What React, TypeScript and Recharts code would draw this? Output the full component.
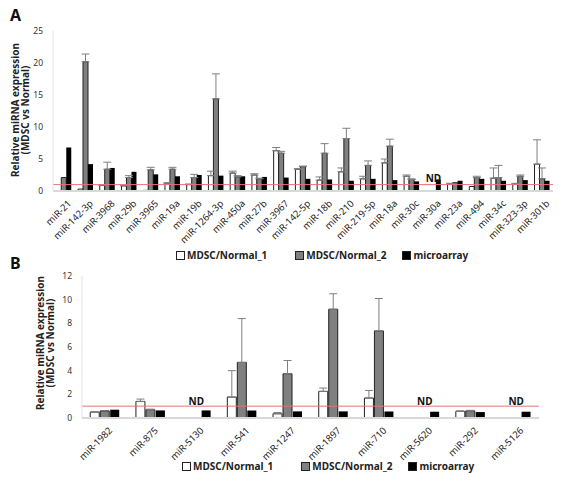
import React from 'react';
import { BarChart, Bar, XAxis, YAxis, ErrorBar, ReferenceLine, ReferenceDot } from 'recharts';

// ---------- Panel A data ----------
const catsA = ['miR-21', 'miR-142-3p', 'miR-3968', 'miR-29b', 'miR-3965', 'miR-19a', 'miR-19b', 'miR-1264-3p', 'miR-450a', 'miR-27b', 'miR-3967', 'miR-142-5p', 'miR-18b', 'miR-210', 'miR-219-5p', 'miR-18a', 'miR-30c', 'miR-30a', 'miR-23a', 'miR-494', 'miR-34c', 'miR-323-3p', 'miR-301b'];
const n1A = [0.05, 0.3, 0.9, 0.8, 0.1, 1.2, 1.0, 2.4, 2.8, 2.5, 6.3, 3.4, 1.7, 3.0, 1.9, 4.4, 2.3, null, 1.1, 0.7, 2.0, 1.1, 4.2];
const n1ErrA = [null, null, 0.1, 0.1, null, 0.1, 0.1, 0.7, 0.3, 0.2, 0.5, 0.1, 0.5, 0.6, 0.4, 0.6, 0.2, null, 0.1, null, 1.6, 0.1, 3.8];
const n2A = [2.1, 20.2, 3.4, 2.1, 3.3, 3.4, 2.1, 14.4, 2.2, 1.9, 5.9, 3.8, 5.9, 8.2, 4.0, 7.0, 1.8, null, 1.3, 2.1, 2.1, 2.3, 1.9];
const n2ErrA = [null, 1.2, 1.1, 0.3, 0.4, 0.3, 0.5, 3.9, 0.2, 0.1, 0.3, 0.1, 1.5, 1.6, 0.7, 1.1, 0.1, null, null, 0.2, 1.9, 0.2, 1.7];
const microA = [6.8, 4.2, 3.6, 3.0, 2.6, 2.3, 2.5, 2.4, 2.3, 2.2, 2.1, 1.9, 1.8, 1.6, 1.9, 1.7, 1.5, 1.8, 1.6, 1.9, 1.6, 1.7, 1.6];
const ticksA = [0, 5, 10, 15, 20, 25];
const ndA = ['miR-30a'];

// ---------- Panel B data ----------
const catsB = ['miR-1982', 'miR-875', 'miR-5130', 'miR-541', 'miR-1247', 'miR-1897', 'miR-710', 'miR-5620', 'miR-292', 'miR-5126'];
const n1B = [0.5, 1.4, null, 1.77, 0.36, 2.25, 1.69, null, 0.56, null];
const n1ErrB = [0.03, 0.2, null, 2.23, 0.1, 0.28, 0.64, null, 0.05, null];
const n2B = [0.6, 0.7, null, 4.7, 3.74, 9.19, 7.36, null, 0.6, null];
const n2ErrB = [null, 0.05, null, 3.7, 1.12, 1.31, 2.74, null, 0.05, null];
const microB = [0.7, 0.64, 0.64, 0.64, 0.56, 0.56, 0.55, 0.53, 0.5, 0.53];
const ticksB = [0, 2, 4, 6, 8, 10, 12];
const ndB = ['miR-5130', 'miR-5620', 'miR-5126'];

const seriesNames = ['MDSC/Normal_1', 'MDSC/Normal_2', 'microarray'];

const build = (cats: string[], a: any[], ae: any[], b: any[], be: any[], m: any[]) =>
  cats.map((c, i) => ({
    name: c,
    n1: a[i],
    n1e: ae[i] == null ? undefined : [0, ae[i]],
    n2: b[i],
    n2e: be[i] == null ? undefined : [0, be[i]],
    micro: m[i],
  }));

const dataA = build(catsA, n1A, n1ErrA, n2A, n2ErrA, microA);
const dataB = build(catsB, n1B, n1ErrB, n2B, n2ErrB, microB);

const FONT = '"Noto Sans", "Open Sans", sans-serif';

const AngledTick = (props: any) => {
  const { x, y, payload } = props;
  return (
    <g transform={`translate(${x + 3},${y})`}>
      <text
        x={0}
        y={0}
        dy="0.75em"
        textAnchor="end"
        transform="rotate(-45)"
        fontSize={9.5}
        fontFamily={FONT}
        fill="#222"
      >
        {payload.value}
      </text>
    </g>
  );
};

const NDLabel = (props: any) => {
  const { viewBox } = props;
  const cx = viewBox.x + viewBox.width / 2;
  const cy = viewBox.y + viewBox.height / 2;
  return (
    <text x={cx} y={cy} textAnchor="middle" dominantBaseline="central" fontSize={10} fontWeight="bold" fontFamily={FONT} fill="#111">
      ND
    </text>
  );
};

const Swatch = ({ fill }: { fill: string }) => (
  <span style={{ display: 'inline-block', width: 7, height: 7, background: fill, border: '1px solid #222', marginRight: 2, verticalAlign: 'middle' }} />
);

const LegendRow = ({ top, left }: { top: number; left: number }) => {
  const fills = ['#ffffff', '#808080', '#000000'];
  const gaps = [0, 28, 16];
  return (
    <div style={{ position: 'absolute', top, left, display: 'flex', alignItems: 'center', fontFamily: FONT, fontSize: 10, fontWeight: 'bold', color: '#222', whiteSpace: 'nowrap' }}>
      {seriesNames.map((n, i) => (
        <span key={n} style={{ marginLeft: gaps[i], display: 'inline-flex', alignItems: 'center' }}>
          <Swatch fill={fills[i]} />
          {n}
        </span>
      ))}
    </div>
  );
};

const YLabel = ({ cx, cy }: { cx: number; cy: number }) => (
  <text transform={`translate(${cx},${cy}) rotate(-90)`} textAnchor="middle" fontFamily={FONT} fontSize={10} fontWeight="bold" fill="#222">
    <tspan x={0} dy={0}>Relative miRNA expression</tspan>
    <tspan x={0} dy={10}>(MDSC vs Normal)</tspan>
  </text>
);

const tickStyle = { fontSize: 8.5, fontFamily: FONT, fill: '#333' };

export default function App() {
  return (
    <div style={{ position: 'absolute', left: 0, top: 0, width: 563, height: 483, background: '#fff', overflow: 'hidden' }}>
      {/* Panel A */}
      <div style={{ position: 'absolute', left: 0, top: 0 }}>
        <BarChart width={563} height={250} data={dataA} margin={{ top: 31, right: 10, left: 0, bottom: 4 }} barCategoryGap="15%" barGap={0}>
          <XAxis dataKey="name" interval={0} height={55} tick={<AngledTick />} tickLine={false} axisLine={{ stroke: '#d9d9d9', strokeWidth: 2 }} />
          <YAxis width={53} domain={[0, 25]} ticks={ticksA} tickLine={false} axisLine={{ stroke: '#e3e3e3' }} tick={tickStyle} tickMargin={4} />
          <Bar dataKey="n1" fill="#ffffff" stroke="#222" strokeWidth={1} isAnimationActive={false}>
            <ErrorBar dataKey="n1e" direction="y" width={4} stroke="#7f7f7f" strokeWidth={1} />
          </Bar>
          <Bar dataKey="n2" fill="#808080" stroke="#222" strokeWidth={1} isAnimationActive={false}>
            <ErrorBar dataKey="n2e" direction="y" width={4} stroke="#7f7f7f" strokeWidth={1} />
          </Bar>
          <Bar dataKey="micro" fill="#000000" isAnimationActive={false} />
          <ReferenceLine y={1} stroke="#e87272" strokeWidth={1} ifOverflow="visible" />
          {ndA.map((c) => (
            <ReferenceDot key={c} x={c} y={2.1} r={0} fill="none" stroke="none" ifOverflow="visible" label={<NDLabel />} />
          ))}
        </BarChart>
      </div>

      {/* Panel B */}
      <div style={{ position: 'absolute', left: 0, top: 250 }}>
        <BarChart width={563} height={233} data={dataB} margin={{ top: 26, right: 24, left: 0, bottom: 15 }} barCategoryGap="18%" barGap={1}>
          <XAxis dataKey="name" interval={0} height={50} tick={<AngledTick />} tickLine={false} axisLine={{ stroke: '#d9d9d9', strokeWidth: 2 }} />
          <YAxis width={82} domain={[0, 12]} ticks={ticksB} tickLine={false} axisLine={{ stroke: '#e3e3e3' }} tick={tickStyle} tickMargin={4} />
          <Bar dataKey="n1" fill="#ffffff" stroke="#222" strokeWidth={1} isAnimationActive={false}>
            <ErrorBar dataKey="n1e" direction="y" width={4} stroke="#7f7f7f" strokeWidth={1} />
          </Bar>
          <Bar dataKey="n2" fill="#808080" stroke="#222" strokeWidth={1} isAnimationActive={false}>
            <ErrorBar dataKey="n2e" direction="y" width={4} stroke="#7f7f7f" strokeWidth={1} />
          </Bar>
          <Bar dataKey="micro" fill="#000000" isAnimationActive={false} />
          <ReferenceLine y={1} stroke="#e87272" strokeWidth={1} ifOverflow="visible" />
          {ndB.map((c) => (
            <ReferenceDot key={c} x={c} y={1.4} r={0} fill="none" stroke="none" ifOverflow="visible" label={<NDLabel />} />
          ))}
        </BarChart>
      </div>

      {/* Titles, axis labels, legends */}
      <svg width={563} height={483} style={{ position: 'absolute', left: 0, top: 0, pointerEvents: 'none' }}>
        <text x={10} y={21} fontFamily={FONT} fontSize={16} fontWeight="bold" fill="#111">A</text>
        <text x={10} y={269} fontFamily={FONT} fontSize={16} fontWeight="bold" fill="#111">B</text>
        <YLabel cx={18.5} cy={110} />
        <YLabel cx={44} cy={343} />
      </svg>
      <LegendRow top={248} left={176} />
      <LegendRow top={459} left={182} />
    </div>
  );
}
